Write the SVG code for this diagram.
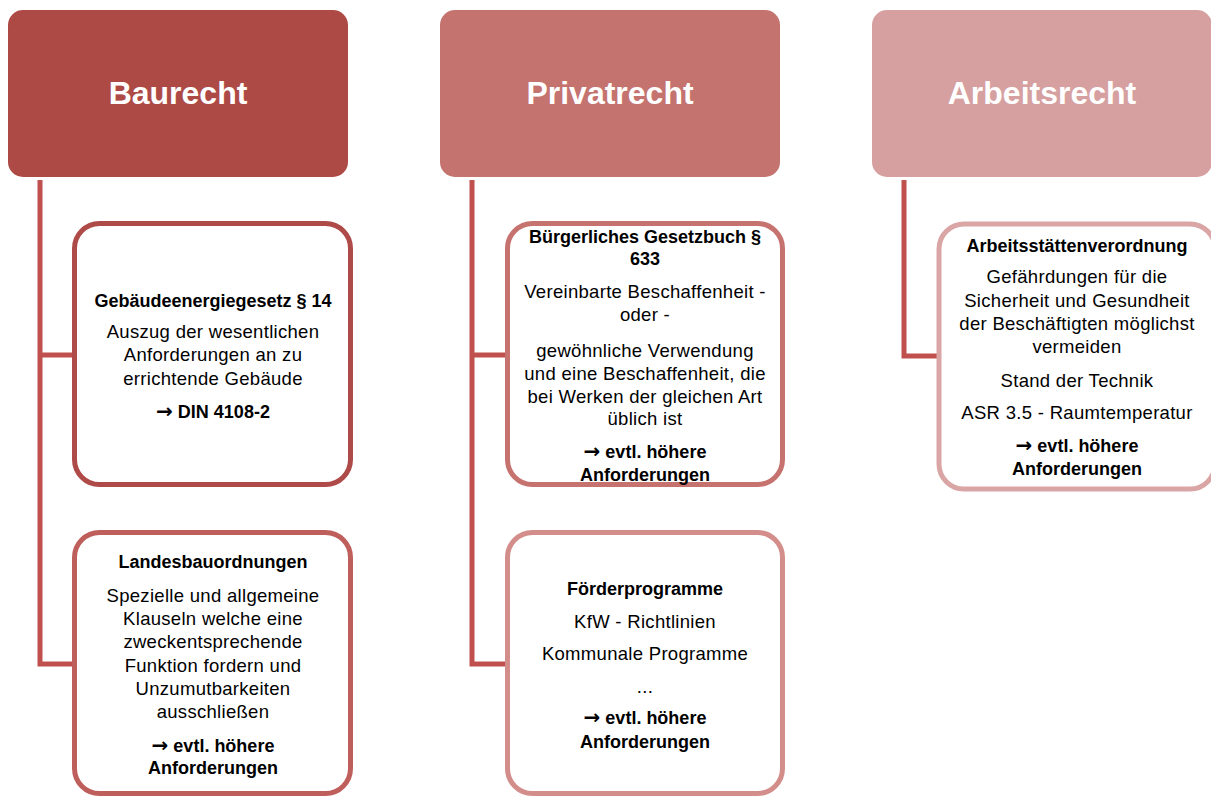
<svg xmlns="http://www.w3.org/2000/svg" width="1211" height="796" viewBox="0 0 1211 796">
<style>
.hd{font-family:"Liberation Sans",Arial,sans-serif;font-weight:bold;font-size:32px;fill:#fff;text-anchor:middle}
.t{font-family:"Liberation Sans",Arial,sans-serif;font-size:18.5px;fill:#000;text-anchor:middle;letter-spacing:0.3px}
.b{font-weight:bold;font-size:18px;letter-spacing:0}
.ar{font-family:"DejaVu Sans",sans-serif;font-weight:bold;font-size:20px}
.box{fill:#fff;stroke-width:5}
.con{fill:none;stroke:#C0504D;stroke-width:5}
</style>
<rect width="1211" height="796" fill="#fff"/>
<g id="connectors">
<path class="con" d="M40,180 V664 H75 M40,355 H75"/>
<path class="con" d="M472,180 V664 H506 M472,355 H506"/>
<path class="con" d="M904,180 V356 H938"/>
</g>
<g id="baurecht">
<rect x="8" y="10" width="340" height="167" rx="15" fill="#AE4A46"/>
<text class="hd" x="178" y="104">Baurecht</text>
</g>
<g id="privatrecht">
<rect x="440" y="10" width="340" height="167" rx="15" fill="#C4736F"/>
<text class="hd" x="610" y="104">Privatrecht</text>
</g>
<g id="arbeitsrecht">
<rect x="872" y="10" width="340" height="167" rx="15" fill="#D6A0A0"/>
<text class="hd" x="1042" y="104">Arbeitsrecht</text>
</g>
<g id="geg">
<rect class="box" x="74.5" y="223.5" width="276" height="261" rx="25" stroke="#AE4A47"/>
<text class="t b" x="213" y="307">Gebäudeenergiegesetz § 14</text>
<text class="t" x="213" y="338">Auszug der wesentlichen</text>
<text class="t" x="213" y="361">Anforderungen an zu</text>
<text class="t" x="213" y="385">errichtende Gebäude</text>
<text class="t b" x="213" y="418"><tspan class="ar">→</tspan> DIN 4108-2</text>
</g>
<g id="lbo">
<rect class="box" x="74.5" y="532.5" width="276" height="261" rx="25" stroke="#BF5F5C"/>
<text class="t b" x="213" y="568">Landesbauordnungen</text>
<text class="t" x="213" y="602">Spezielle und allgemeine</text>
<text class="t" x="213" y="625">Klauseln welche eine</text>
<text class="t" x="213" y="648">zweckentsprechende</text>
<text class="t" x="213" y="672">Funktion fordern und</text>
<text class="t" x="213" y="695">Unzumutbarkeiten</text>
<text class="t" x="213" y="718">ausschließen</text>
<text class="t b" x="213" y="752"><tspan class="ar">→</tspan> evtl. höhere</text>
<text class="t b" x="213" y="774">Anforderungen</text>
</g>
<g id="bgb">
<rect class="box" x="507.5" y="223.5" width="275" height="261" rx="25" stroke="#C6726F"/>
<text class="t b" x="645" y="243">Bürgerliches Gesetzbuch §</text>
<text class="t b" x="645" y="265">633</text>
<text class="t" x="645" y="298">Vereinbarte Beschaffenheit -</text>
<text class="t" x="645" y="321">oder -</text>
<text class="t" x="645" y="357">gewöhnliche Verwendung</text>
<text class="t" x="645" y="380">und eine Beschaffenheit, die</text>
<text class="t" x="645" y="403">bei Werken der gleichen Art</text>
<text class="t" x="645" y="425">üblich ist</text>
<text class="t b" x="645" y="458"><tspan class="ar">→</tspan> evtl. höhere</text>
<text class="t b" x="645" y="481">Anforderungen</text>
</g>
<g id="foerder">
<rect class="box" x="507.5" y="532.5" width="275" height="261" rx="25" stroke="#D38D8B"/>
<text class="t b" x="645" y="595">Förderprogramme</text>
<text class="t" x="645" y="628">KfW - Richtlinien</text>
<text class="t" x="645" y="660">Kommunale Programme</text>
<text class="t" x="645" y="693">...</text>
<text class="t b" x="645" y="724"><tspan class="ar">→</tspan> evtl. höhere</text>
<text class="t b" x="645" y="748">Anforderungen</text>
</g>
<g id="arbstaettv">
<rect class="box" x="939" y="224" width="276" height="265" rx="25" stroke="#DAA6A5"/>
<text class="t b" x="1077" y="252">Arbeitsstättenverordnung</text>
<text class="t" x="1077" y="283">Gefährdungen für die</text>
<text class="t" x="1077" y="307">Sicherheit und Gesundheit</text>
<text class="t" x="1077" y="330">der Beschäftigten möglichst</text>
<text class="t" x="1077" y="353">vermeiden</text>
<text class="t" x="1077" y="387">Stand der Technik</text>
<text class="t" x="1077" y="419">ASR 3.5 - Raumtemperatur</text>
<text class="t b" x="1077" y="452"><tspan class="ar">→</tspan> evtl. höhere</text>
<text class="t b" x="1077" y="475">Anforderungen</text>
</g>
</svg>
